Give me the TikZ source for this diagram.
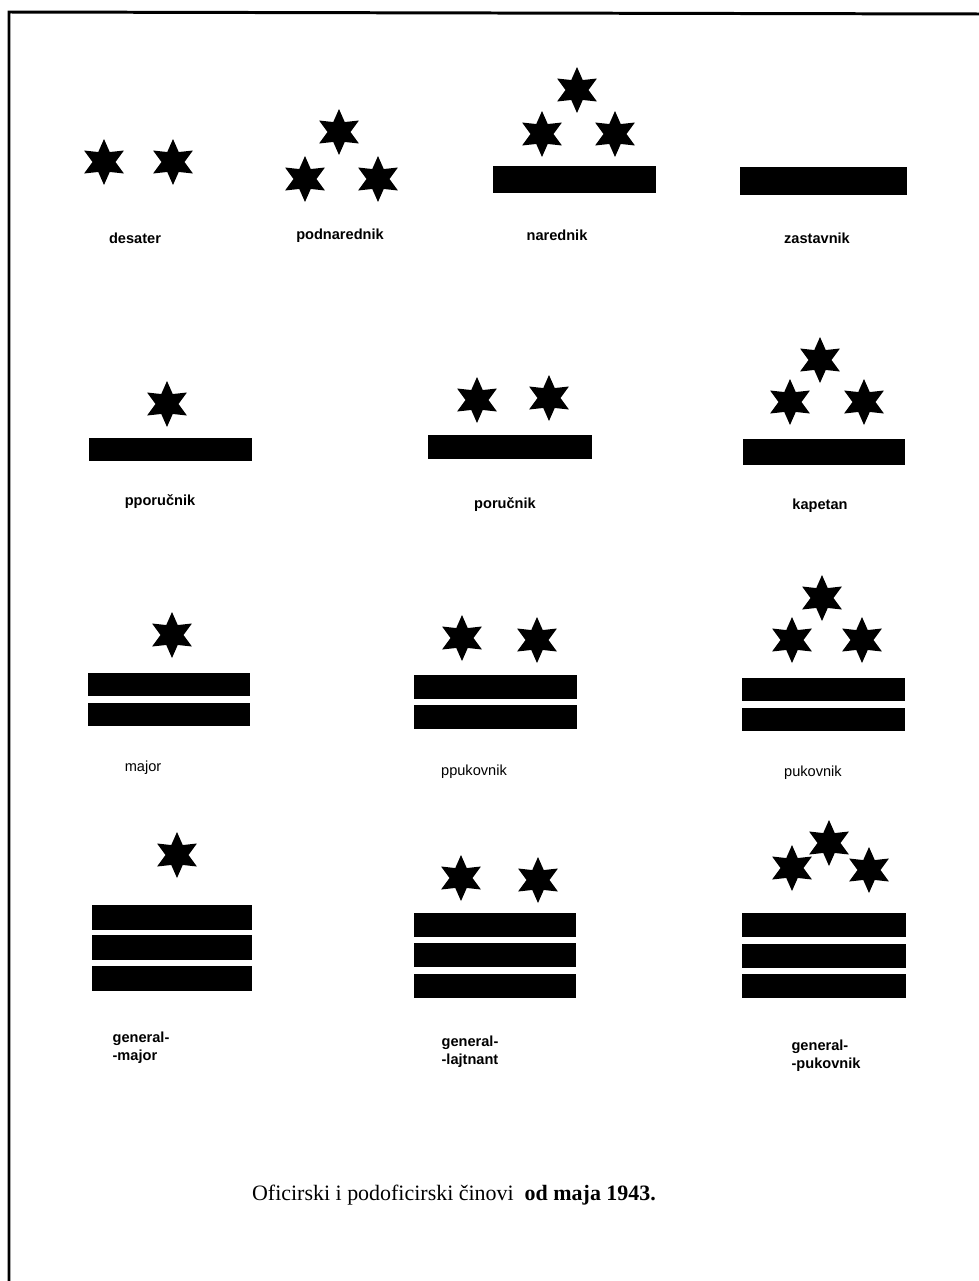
\documentclass[tikz,border=0pt]{standalone}
\usepackage{fontspec}
\setmainfont{Liberation Serif}
\setsansfont{Liberation Sans}
\usetikzlibrary{shapes.geometric}

\begin{document}
\begin{tikzpicture}[
    x=0.02cm, y=-0.02cm,
    rankstar/.style = {star, star points=6, star point ratio=2, fill=black,
                       inner sep=0pt, minimum size=0.92cm},
    rankbar/.style = {rectangle, fill=black, inner sep=0pt,
                      minimum width=3.28cm, minimum height=0.48cm},
    ranklabel/.style = {font=\sffamily\bfseries\fontsize{8.3}{10}\selectfont,
                        align=left, inner sep=0pt},
    ranklight/.style = {ranklabel, font=\sffamily\fontsize{8.3}{10}\selectfont},
    caption/.style = {font=\fontsize{12.5}{15}\selectfont, inner sep=0pt},
    frameline/.style = {line width=1.7pt, line join=miter}
]
\useasboundingbox (0,0) rectangle (978,1281);

% --- Page frame (top and left edge) ---
\coordinate (ftr) at (980,14);
\coordinate (ftl) at (9,12);
\coordinate (fbl) at (9,1283);
\draw[frameline] (ftr) -- (ftl) -- (fbl);

% --- Row 1: podoficiri ---
\node[rankstar] (des-s1) at (104,162) {};
\node[rankstar] (des-s2) at (173,162) {};
\node[ranklabel] (des) at (135,238) {desater};

\node[rankstar] (podn-s1) at (339,132) {};
\node[rankstar] (podn-s2) at (305,179) {};
\node[rankstar] (podn-s3) at (378,179) {};
\node[ranklabel] (podn) at (340,236) {podnarednik};

\node[rankstar] (nar-s1) at (577,90) {};
\node[rankstar] (nar-s2) at (542,134) {};
\node[rankstar] (nar-s3) at (615,134) {};
\node[rankbar, minimum height=0.54cm] (nar-b1) at (574.5,179.5) {};
\node[ranklabel] (nar) at (557,235) {narednik};

\node[rankbar, minimum width=3.34cm, minimum height=0.56cm] (zast-b1) at (823.5,181) {};
\node[ranklabel] (zast) at (817,238) {zastavnik};

% --- Row 2: niži oficiri ---
\node[rankstar] (ppor-s1) at (167,404) {};
\node[rankbar, minimum height=0.46cm] (ppor-b1) at (170.5,449.5) {};
\node[ranklabel] (ppor) at (160,502) {pporučnik};

\node[rankstar] (por-s1) at (477,400) {};
\node[rankstar] (por-s2) at (549,398) {};
\node[rankbar] (por-b1) at (510,447) {};
\node[ranklabel] (por) at (505,505) {poručnik};

\node[rankstar] (kap-s1) at (820,360) {};
\node[rankstar] (kap-s2) at (790,402) {};
\node[rankstar] (kap-s3) at (864,402) {};
\node[rankbar, minimum width=3.24cm, minimum height=0.52cm] (kap-b1) at (824,452) {};
\node[ranklabel] (kap) at (820,506) {kapetan};

% --- Row 3: viši oficiri ---
\node[rankstar] (maj-s1) at (172,635) {};
\node[rankbar, minimum width=3.24cm, minimum height=0.46cm] (maj-b1) at (169,684.5) {};
\node[rankbar, minimum width=3.24cm, minimum height=0.46cm] (maj-b2) at (169,714.5) {};
\node[ranklight] (maj) at (143,768) {major};

\node[rankstar] (ppuk-s1) at (462,638) {};
\node[rankstar] (ppuk-s2) at (537,640) {};
\node[rankbar, minimum width=3.26cm] (ppuk-b1) at (495.5,687) {};
\node[rankbar, minimum width=3.26cm] (ppuk-b2) at (495.5,717) {};
\node[ranklight] (ppuk) at (474,772) {ppukovnik};

\node[rankstar] (puk-s1) at (822,598) {};
\node[rankstar] (puk-s2) at (792,640) {};
\node[rankstar] (puk-s3) at (862,640) {};
\node[rankbar, minimum width=3.26cm, minimum height=0.46cm] (puk-b1) at (823.5,689.5) {};
\node[rankbar, minimum width=3.26cm, minimum height=0.46cm] (puk-b2) at (823.5,719.5) {};
\node[ranklight] (puk) at (813,773) {pukovnik};

% --- Row 4: generali ---
\node[rankstar] (gmaj-s1) at (177,855) {};
\node[rankbar, minimum width=3.2cm, minimum height=0.5cm] (gmaj-b1) at (172,917.5) {};
\node[rankbar, minimum width=3.2cm, minimum height=0.5cm] (gmaj-b2) at (172,947.5) {};
\node[rankbar, minimum width=3.2cm, minimum height=0.5cm] (gmaj-b3) at (172,978) {};
\node[ranklabel] (gmaj) at (141,1048) {general-\\-major};

\node[rankstar] (glaj-s1) at (461,878) {};
\node[rankstar] (glaj-s2) at (538,880) {};
\node[rankbar, minimum width=3.24cm] (glaj-b1) at (495,925) {};
\node[rankbar, minimum width=3.24cm] (glaj-b2) at (495,955) {};
\node[rankbar, minimum width=3.24cm] (glaj-b3) at (495,985.5) {};
\node[ranklabel] (glaj) at (470,1052) {general-\\-lajtnant};

\node[rankstar] (gpuk-s1) at (829,843) {};
\node[rankstar] (gpuk-s2) at (792,868) {};
\node[rankstar] (gpuk-s3) at (869,870) {};
\node[rankbar] (gpuk-b1) at (824,925) {};
\node[rankbar] (gpuk-b2) at (824,956) {};
\node[rankbar] (gpuk-b3) at (824,986) {};
\node[ranklabel] (gpuk) at (826,1056) {general-\\-pukovnik};

% --- Caption ---
\node[caption] (cap) at (454,1195) {Oficirski i podoficirski činovi\ \ \textbf{od maja 1943.}};

\end{tikzpicture}
\end{document}
